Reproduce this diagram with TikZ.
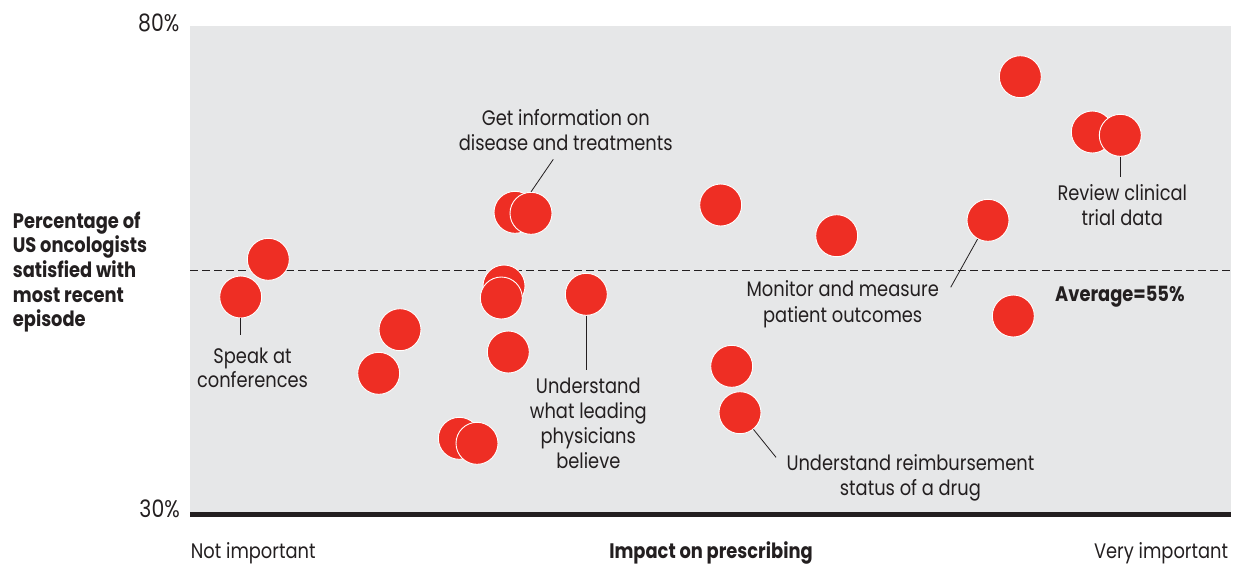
\documentclass[tikz,border=0pt]{standalone}
\usepackage{fontspec}
\setmainfont[FakeStretch=0.85]{Poppins}
\definecolor{dotred}{HTML}{EE2E24}
\definecolor{panel}{HTML}{E6E7E8}
\definecolor{ink}{HTML}{231F20}
\tikzset{
  dot/.style={circle,fill=dotred,draw=white,line width=0.9pt,minimum size=42pt,inner sep=0pt},
  lbl/.style={font=\fontsize{21}{25}\selectfont,text=ink,align=center,inner sep=0pt,anchor=base},
  ticklbl/.style={font=\fontsize{24}{25}\selectfont,text=ink,inner sep=0pt,anchor=base east},
  boldlbl/.style={font=\fontsize{21}{24.6}\selectfont\bfseries,text=ink,inner sep=0pt},
  leader/.style={draw=ink,line width=0.8pt},
}
\begin{document}
\begin{tikzpicture}[x=1pt,y=-1pt]
\useasboundingbox (0,0) rectangle (1241,566);
% panel and axes
\fill[panel] (190,26) rectangle (1230.5,512);
\draw[ink,line width=0.9pt,dash pattern=on 7.5pt off 4.5pt] (190,270.3) -- (1230.5,270.3);
\draw[ink,line width=5pt] (190,514) -- (1230.5,514);
\node[ticklbl] (top) at (179.5,31) {80\%};
\node[ticklbl] (bot) at (180,517.3) {30\%};
\node[lbl,anchor=base west] (notimp) at (190.7,558) {Not important};
\node[lbl,anchor=base east] (veryimp) at (1228.3,558) {Very important};
\node[boldlbl,anchor=base] (xlab) at (711,558) {Impact on prescribing};
\node[boldlbl,anchor=base west,align=left] (ylab) at (12.7,326.7) {Percentage of\\US oncologists\\satisfied with\\most recent\\episode};
\node[boldlbl,anchor=base west] (avg) at (1055,301.7) {Average=55\%};
% dots
\node[dot] (c1) at (268.3,259.3) {};
\node[dot] (c2) at (240.7,297) {};
\node[dot] (c3) at (400,329.7) {};
\node[dot] (c4) at (378.7,373.3) {};
\node[dot] (c5) at (459.3,438.3) {};
\node[dot] (c6) at (477,443.3) {};
\node[dot] (c7) at (504,286) {};
\node[dot] (c8) at (501.3,298) {};
\node[dot] (c9) at (508.3,352) {};
\node[dot] (c10) at (515,212.3) {};
\node[dot] (c11) at (531,213.3) {};
\node[dot] (c12) at (586.3,294.3) {};
\node[dot] (c13) at (720.7,205) {};
\node[dot] (c14) at (731.7,366.3) {};
\node[dot] (c15) at (740,412.7) {};
\node[dot] (c16) at (836.7,235.7) {};
\node[dot] (c17) at (988,220.3) {};
\node[dot] (c18) at (1013.3,316) {};
\node[dot] (c19) at (1020.3,76.7) {};
\node[dot] (c20) at (1092.3,132) {};
\node[dot] (c21) at (1120.3,135.3) {};
% labels (anchor base = baseline of last line)
\node[lbl,font=\fontsize{21}{24}\selectfont] (speak) at (252.5,387) {Speak at\\conferences};
\node[lbl] (getinfo) at (565.8,150.7) {Get information on\\disease and treatments};
\node[lbl] (leading) at (588.3,468.3) {Understand\\what leading\\physicians\\believe};
\node[lbl] (reimb) at (910.4,495) {Understand reimbursement\\status of a drug};
\node[lbl,font=\fontsize{21}{26}\selectfont] (monitor) at (842.7,322.7) {Monitor and measure\\patient outcomes};
\node[lbl,font=\fontsize{21}{25.7}\selectfont] (review) at (1122.3,225.7) {Review clinical\\trial data};
% leader ends
\coordinate (speakend) at (240.7,335);
\coordinate (getend) at (553.3,159.3);
\coordinate (leadend) at (586.3,370);
\coordinate (reimbend) at (776,457.3);
\coordinate (monend) at (950.7,287.3);
\coordinate (revend) at (1120.3,176.7);
\draw[leader] (c2) -- (speakend);
\draw[leader] (c11.north) -- (getend);
\draw[leader] (c12) -- (leadend);
\draw[leader] (c15) -- (reimbend);
\draw[leader] (c17) -- (monend);
\draw[leader] (c21) -- (revend);
\end{tikzpicture}
\end{document}
